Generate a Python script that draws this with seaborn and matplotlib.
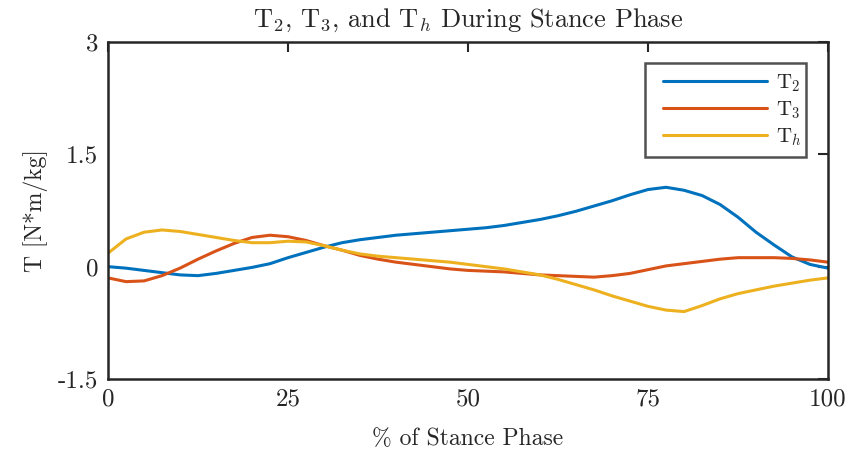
import numpy as np
import pandas as pd
import matplotlib
matplotlib.use("Agg")
import matplotlib.pyplot as plt
from matplotlib.lines import Line2D
from matplotlib.legend_handler import HandlerLine2D
import seaborn as sns

stance = [0, 2.5, 5, 7.5, 10, 12.5, 15, 17.5, 20, 22.5, 25, 27.5, 30, 32.5, 35, 37.5,
          40, 42.5, 45, 47.5, 50, 52.5, 55, 57.5, 60, 62.5, 65, 67.5, 70, 72.5, 75,
          77.5, 80, 82.5, 85, 87.5, 90, 92.5, 95, 97.5, 100]
T2 = [0.0, -0.02, -0.05, -0.08, -0.11, -0.12, -0.09, -0.05, -0.01, 0.04, 0.12, 0.19,
      0.26, 0.32, 0.36, 0.39, 0.42, 0.44, 0.46, 0.48, 0.50, 0.52, 0.55, 0.59, 0.63,
      0.68, 0.74, 0.81, 0.88, 0.96, 1.03, 1.06, 1.02, 0.95, 0.83, 0.66, 0.46, 0.29,
      0.13, 0.03, -0.02]
T3 = [-0.15, -0.20, -0.19, -0.12, -0.02, 0.10, 0.21, 0.31, 0.39, 0.42, 0.40, 0.35,
      0.28, 0.22, 0.15, 0.10, 0.06, 0.03, 0.00, -0.03, -0.05, -0.06, -0.07, -0.09,
      -0.11, -0.12, -0.13, -0.14, -0.12, -0.09, -0.04, 0.01, 0.04, 0.07, 0.10, 0.12,
      0.12, 0.12, 0.11, 0.09, 0.06]
Th = [0.18, 0.37, 0.46, 0.49, 0.47, 0.43, 0.39, 0.35, 0.32, 0.32, 0.34, 0.33, 0.28,
      0.22, 0.17, 0.14, 0.12, 0.10, 0.08, 0.06, 0.03, 0.00, -0.03, -0.07, -0.11, -0.17,
      -0.24, -0.31, -0.39, -0.46, -0.53, -0.58, -0.60, -0.52, -0.43, -0.36, -0.31,
      -0.26, -0.22, -0.18, -0.15]
series_names = [r"T$_2$", r"T$_3$", r"T$_h$"]
colors = ["#0072BD", "#D95319", "#EDB120"]
xticks = [0, 25, 50, 75, 100]
yticks = [-1.5, 0, 1.5, 3]
ytick_labels = ["-1.5", "0", "1.5", "3"]

df = pd.concat([
    pd.DataFrame({"x": stance, "T": vals, "series": name})
    for name, vals in zip(series_names, [T2, T3, Th])
])

sns.set_style("white")
plt.rcParams["font.family"] = "serif"
plt.rcParams["font.serif"] = ["cmr10", "DejaVu Serif"]
plt.rcParams["mathtext.fontset"] = "cm"
plt.rcParams["axes.unicode_minus"] = False
plt.rcParams["axes.formatter.use_mathtext"] = True

fig = plt.figure(figsize=(8.54, 4.59), dpi=100)
ax = fig.add_axes([0.1265, 0.1743, 0.9696 - 0.1265, 0.9085 - 0.1743])

sns.lineplot(data=df, x="x", y="T", hue="series", palette=colors, ax=ax,
             linewidth=2.2, sort=False)

ax.set_xlim(0, 100)
ax.set_ylim(-1.5, 3)
ax.set_xticks(xticks)
ax.set_xticklabels([str(t) for t in xticks])
ax.set_yticks(yticks)
ax.set_yticklabels(ytick_labels)
for s in ax.spines.values():
    s.set_visible(True)
    s.set_color("#262626")
    s.set_linewidth(1.8)
ax.tick_params(direction="in", length=7, width=1.5, colors="#262626",
               top=True, right=True, labelsize=18, pad=7)
ax.set_xlabel("% of Stance Phase", fontsize=17, color="#262626", labelpad=12)
ax.set_ylabel("T [N*m/kg]", fontsize=17, color="#262626", labelpad=7)
ax.set_title(r"T$_2$, T$_3$, and T$_h$ During Stance Phase", fontsize=19,
             color="#262626", pad=11)

leg = ax.legend(loc="upper left", bbox_to_anchor=(0.746, 0.938, 0.223, 0.0),
                mode="expand", fontsize=15,
                frameon=True, fancybox=False, edgecolor="#262626",
                handlelength=5.38, handletextpad=0.43, borderpad=0.45,
                labelspacing=0.26, borderaxespad=0,
                handler_map={Line2D: HandlerLine2D(xpad=0.43)})
leg.get_frame().set_linewidth(1.8)
leg.set_title(None)

fig.savefig("out.png", dpi=100)
